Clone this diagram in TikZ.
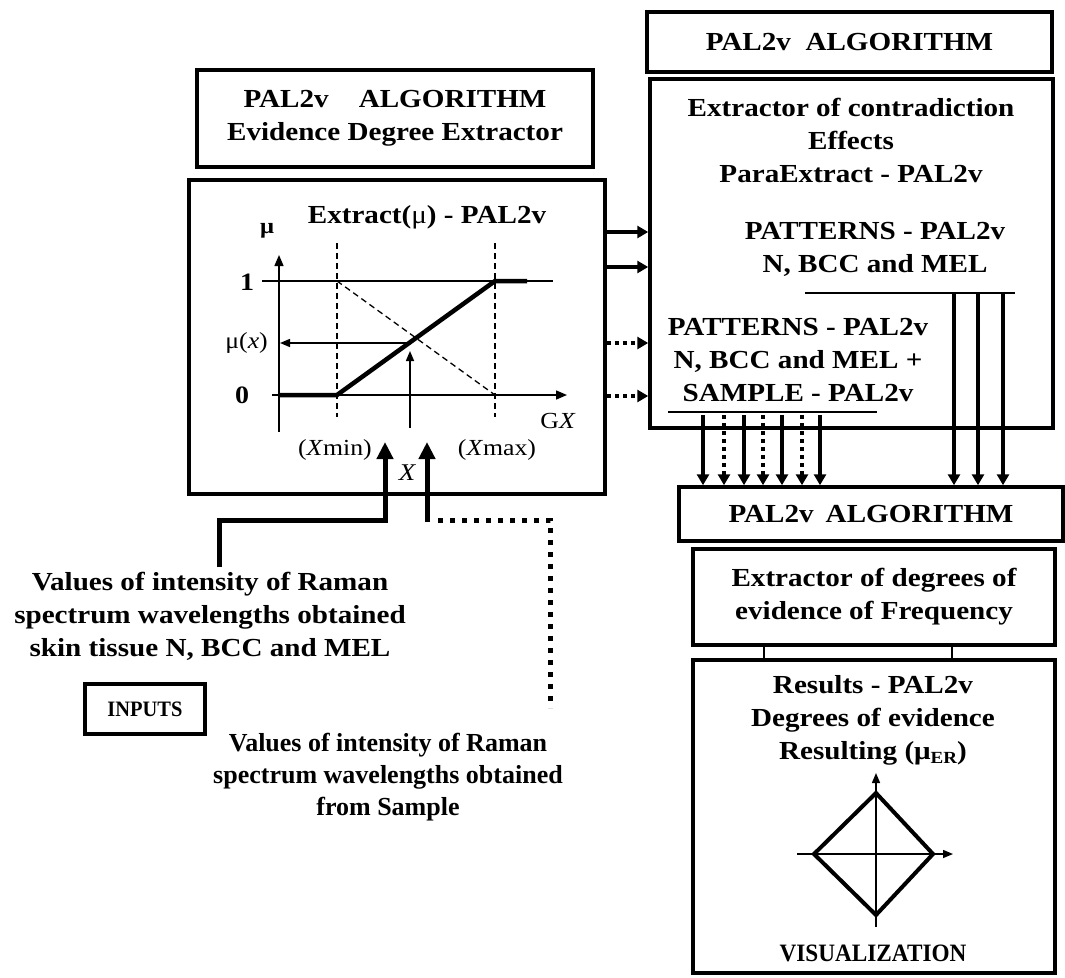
\documentclass[tikz,border=0pt]{standalone}
\usepackage{fontspec}
\setmainfont{Liberation Serif}[FakeStretch=1.12]
\newfontfamily\narrowserif{Liberation Serif}[FakeStretch=0.93]
\newfontfamily\plainserif{Liberation Serif}
\usetikzlibrary{arrows.meta}

\begin{document}
\begin{tikzpicture}[x=1pt,y=-1pt,
  box/.style={draw, line width=3.5pt, inner sep=0pt, align=center},
  big/.style={font=\fontsize{26}{33}\selectfont\bfseries, align=center, inner sep=0pt},
  lab/.style={font=\fontsize{23}{23}\selectfont, inner sep=0pt},
  feed/.style={line width=3.2pt, -{Triangle[length=11pt,width=12pt]}},
  feeddot/.style={feed, dash pattern=on 4pt off 4pt},
  inarrow/.style={line width=5pt, -{Triangle[length=17pt,width=16pt]}},
  indot/.style={line width=5pt, dash pattern=on 5pt off 7pt},
  axis/.style={line width=1.5pt},
  axisarrow/.style={axis, -{Triangle[length=11pt,width=9pt]}},
  guide/.style={line width=1.3pt, dash pattern=on 6pt off 4pt},
  curve/.style={line width=4.5pt},
  link/.style={line width=2.5pt},
  rule/.style={line width=2pt}]

\useasboundingbox (0,0) rectangle (1065,977);

% ---------- boxes ----------
\node[box, big, minimum width=405pt, minimum height=60pt] (algR) at (849.5,42) {PAL2v\ \ ALGORITHM};
\node[box, big, minimum width=396pt, minimum height=97pt] (algL) at (395,118.5)
  {PAL2v\hspace{30pt}ALGORITHM\\Evidence Degree Extractor};
\node[box, minimum width=416pt, minimum height=314pt] (graph) at (397,337) {};
\node[box, minimum width=403pt, minimum height=349pt] (contra) at (851.5,253.5) {};
\node[box, big, minimum width=384pt, minimum height=54pt] (algB) at (871,514) {PAL2v\hspace{12pt}ALGORITHM};
\node[box, big, minimum width=362pt, minimum height=96pt] (freq) at (874,597)
  {Extractor of degrees of\\evidence of Frequency};
\node[box, minimum width=362pt, minimum height=313pt] (res) at (874,816.5) {};
\node[box, line width=3.2pt, minimum width=120pt, minimum height=50pt,
  font=\narrowserif\fontsize{22}{26}\selectfont\bfseries] (inputs) at (145,709) {INPUTS};

% ---------- texts ----------
\node[big] (contraTxt) at (851,140) {Extractor of contradiction\\Effects\\ParaExtract - PAL2v};
\node[big] (patA) at (875,249) {PATTERNS - PAL2v\\N, BCC and MEL};
\node[big] (patB) at (798,360) {PATTERNS - PAL2v\\N, BCC and MEL +\\SAMPLE - PAL2v};
\node[big] (extract) at (427,217) {Extract({\mdseries μ}) - PAL2v};
\node[big] (resTxt) at (873,720)
  {Results - PAL2v\\Degrees of evidence\\Resulting (μ\raisebox{-4pt}{\fontsize{17}{17}\selectfont ER})};
\node[font=\narrowserif\fontsize{25}{25}\selectfont\bfseries, inner sep=0pt] (vis) at (873,953) {VISUALIZATION};
\node[big] (srcN) at (210,616)
  {Values of intensity of Raman\\spectrum wavelengths obtained\\skin tissue N, BCC and MEL};
\node[big, font=\plainserif\fontsize{26}{32}\selectfont\bfseries] (srcS) at (388,777)
  {Values of intensity of Raman\\spectrum wavelengths obtained\\from Sample};

% underlines of the pattern groups
\draw[rule] (805,293) -- (1015,293);
\draw[rule] (668,412) -- (877,412);

% ---------- membership graph ----------
\draw[axisarrow] (279,432) -- (279,255);
\draw[axisarrow] (272,395) -- (567,395);
\draw[axis] (262,281) -- (553,281);
\draw[guide] (337,243) -- (337,417);
\draw[guide] (495,243) -- (495,417);
\draw[guide] (337,281) -- (495,395);
\draw[curve] (279,395) -- (337,395) -- (495,281) -- (527,281);
\draw[axis, -{Triangle[length=10pt,width=8pt]}] (410,343) -- (280,343);
\draw[axis, -{Triangle[length=10pt,width=8pt]}] (410,428) -- (410,351);

\node[lab, font=\fontsize{22}{22}\selectfont\bfseries] (muLab) at (267,231) {μ};
\node[lab, font=\fontsize{25}{25}\selectfont\bfseries] (one) at (247,282) {1};
\node[lab, font=\fontsize{25}{25}\selectfont\bfseries] (zero) at (242,395) {0};
\node[lab, anchor=east] (mux) at (268,343) {μ(\textit{x})};
\node[lab] (gx) at (558,421) {G\textit{X}};
\node[lab, anchor=east] (xmin) at (372,450) {(\textit{X}min)};
\node[lab] (xmax) at (497,450) {(\textit{X}max)};
\node[lab, font=\fontsize{24}{24}\selectfont\itshape] (xin) at (407,473) {X};

% ---------- graph box to contradiction extractor ----------
\coordinate (r1) at (0,232);
\coordinate (r2) at (0,267);
\coordinate (r3) at (0,343);
\coordinate (r4) at (0,396);
\draw[feed] (graph.east |- r1) -- (contra.west |- r1);
\draw[feed] (graph.east |- r2) -- (contra.west |- r2);
\draw[feeddot] (graph.east |- r3) -- (contra.west |- r3);
\draw[feeddot] (graph.east |- r4) -- (contra.west |- r4);

% ---------- pattern outputs to the algorithm ----------
\foreach \x/\s [count=\i] in {703/feed,724/feeddot,744/feed,763/feeddot,782/feed,802/feeddot,820/feed}{
  \coordinate (u\i) at (\x,415);
  \draw[\s] (u\i) -- (u\i |- algB.north);
}
\foreach \x [count=\i] in {954,978,1003}{
  \coordinate (v\i) at (\x,294);
  \draw[feed] (v\i) -- (v\i |- algB.north);
}

% ---------- frequency extractor to results ----------
\coordinate (l1) at (764,0);
\coordinate (l2) at (952,0);
\draw[link] (freq.south -| l1) -- (res.north -| l1);
\draw[link] (freq.south -| l2) -- (res.north -| l2);

% ---------- inputs ----------
\coordinate (bend) at (0,520);
\coordinate (srcNtop) at (219,567);
\coordinate (tipMin) at (385,442);
\coordinate (tipX) at (427,442);
\coordinate (xjoin) at (427,522);
\coordinate (dotStart) at (438,520);
\coordinate (dotCorner) at (550,520);
\coordinate (sampTop) at (550,708);
\draw[inarrow] (srcNtop) -- (srcNtop |- bend) -- (tipMin |- bend) -- (tipMin);
\draw[inarrow] (xjoin) -- (tipX);
\draw[indot] (dotStart) -- (dotCorner) -- (sampTop);

% ---------- visualization diagram ----------
\draw[axis, -{Triangle[length=10pt,width=8pt]}] (797,854) -- (953,854);
\draw[axis, -{Triangle[length=10pt,width=8pt]}] (876,927) -- (876,773);
\draw[curve, line width=4pt, line join=miter] (876,793) -- (933,854) -- (876,915) -- (814,854) -- cycle;

\end{tikzpicture}
\end{document}
